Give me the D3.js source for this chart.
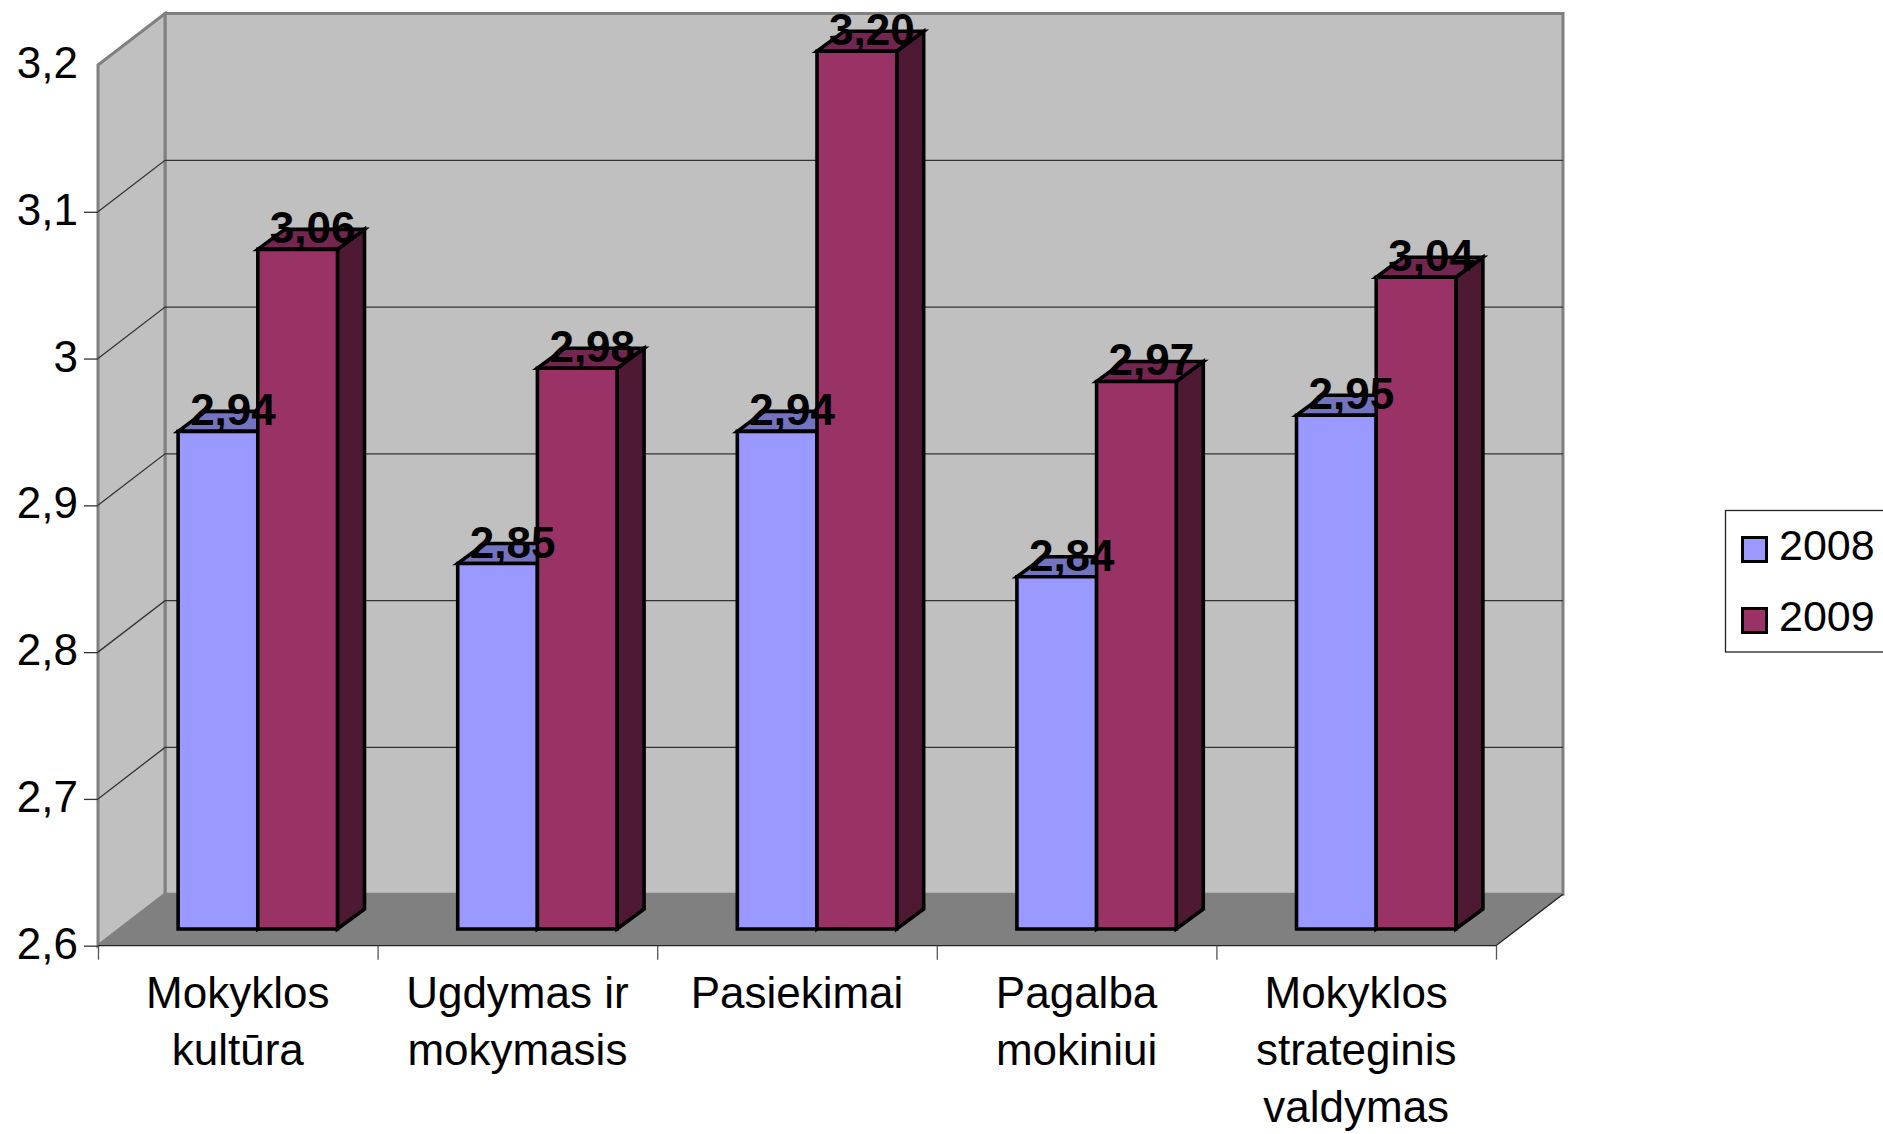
<!DOCTYPE html>
<html>
<head>
<meta charset="utf-8">
<script src="https://cdn.jsdelivr.net/npm/d3@7"></script>
<style>
body { margin: 0; background: #fff; }
svg { display: block; }
text { font-family: "Liberation Sans", Arial, sans-serif; fill: #000; }
</style>
</head>
<body>
<svg id="chart"></svg>
<script>
var categories = [
    ["Mokyklos", "kultūra"],
    ["Ugdymas ir", "mokymasis"],
    ["Pasiekimai"],
    ["Pagalba", "mokiniui"],
    ["Mokyklos", "strateginis", "valdymas"]
];
var years = ["2008", "2009"];
var values2008 = [2.939, 2.849, 2.939, 2.84, 2.95];
var values2009 = [3.063, 2.982, 3.198, 2.973, 3.044];
var yTicks = [2.6, 2.7, 2.8, 2.9, 3, 3.1, 3.2];

var frontColors = ["#9999ff", "#993366"];
var topColors = ["#7373bf", "#732650"];
var sideColors = ["#4d4d80", "#4d1933"];

const width = 1883, height = 1134;
const fontSize = 44;

// wall depth, and how far the bars stand behind the front plane
const depthX = 67, depthY = 51.5;
const barOffX = 20, barOffY = 16.7;
const barDepthX = 27, barDepthY = 20;
const barStroke = 3.6;

const svg = d3.select("#chart").attr("width", width).attr("height", height);

const y = d3.scaleLinear().domain([2.6, 3.2]).range([945.7, 65]);
const x0 = d3.scaleBand().domain(d3.range(categories.length)).range([98, 1496])
    .paddingInner(0.43).paddingOuter(0.215);
const x1 = d3.scaleBand().domain(d3.range(years.length)).range([0, x0.bandwidth()]);
const xEdge = d3.scaleLinear().domain([0, categories.length]).range([98, 1496]);

const left = xEdge.range()[0], right = xEdge.range()[1];
const bottom = y(2.6), top_ = y(3.2);

function poly(pts, fill, stroke, sw) {
    return svg.append("polygon")
        .attr("points", pts.map(p => p.join(",")).join(" "))
        .attr("fill", fill)
        .attr("stroke", stroke || "none")
        .attr("stroke-width", sw || 0)
        .attr("stroke-linejoin", "miter");
}

// walls
poly([[left + depthX, top_ - depthY], [right + depthX, top_ - depthY], [right + depthX, bottom - depthY], [left + depthX, bottom - depthY]], "#c0c0c0", "#808080", 3);
poly([[left, top_], [left + depthX, top_ - depthY], [left + depthX, bottom - depthY], [left, bottom]], "#c0c0c0", "#808080", 3);

// gridlines on side wall and back wall
yTicks.filter(d => d > 2.6 && d < 3.2).forEach(function (d) {
    svg.append("polyline")
        .attr("points", [[left, y(d)], [left + depthX, y(d) - depthY], [right + depthX, y(d) - depthY]].map(p => p.join(",")).join(" "))
        .attr("fill", "none")
        .attr("stroke", "#333")
        .attr("stroke-width", 1.3);
});

// floor
poly([[left, bottom], [left + depthX, bottom - depthY], [right + depthX, bottom - depthY], [right, bottom]], "#808080");
svg.append("polyline")
    .attr("points", [[left, bottom], [right, bottom], [right + depthX, bottom - depthY]].map(p => p.join(",")).join(" "))
    .attr("fill", "none")
    .attr("stroke", "#222")
    .attr("stroke-width", 1.3);

// bars
var series = [values2008, values2009];
categories.forEach(function (c, i) {
    series.forEach(function (vals, s) {
        var xa = x0(i) + x1(s) + barOffX;
        var xb = xa + x1.bandwidth();
        var yt = y(vals[i]) - barOffY;
        var yb = bottom - barOffY;
        var dx = barDepthX, dy = barDepthY;
        poly([[xb, yt], [xb + dx, yt - dy], [xb + dx, yb - dy], [xb, yb]], sideColors[s], "#000", barStroke);
        poly([[xa, yt], [xa + dx, yt - dy], [xb + dx, yt - dy], [xb, yt]], topColors[s], "#000", barStroke);
        poly([[xa, yt], [xb, yt], [xb, yb], [xa, yb]], frontColors[s], "#000", barStroke);
    });
});

// value labels go over all bars
categories.forEach(function (c, i) {
    series.forEach(function (vals, s) {
        svg.append("text")
            .attr("x", x0(i) + x1(s) + barOffX + 1.5 + (x1.bandwidth() + barDepthX) / 2)
            .attr("y", y(vals[i]) - barOffY - 6)
            .attr("text-anchor", "middle")
            .attr("font-size", fontSize)
            .attr("font-weight", "bold")
            .text(vals[i].toFixed(2).replace(".", ","));
    });
});

// y axis
const yAxis = svg.append("g")
    .attr("transform", "translate(" + left + ",0)")
    .call(d3.axisLeft(y).tickValues(yTicks).tickSize(14).tickPadding(6)
        .tickFormat(d => String(d).replace(".", ",")));
yAxis.select(".domain").remove();
yAxis.selectAll(".tick line").attr("stroke", "#333").attr("stroke-width", 1.3)
    .filter(d => d === 3.2).remove();
yAxis.selectAll(".tick text")
    .attr("font-size", fontSize)
    .attr("font-family", null)
    .attr("dy", 12.5);

// x axis ticks
const xAxis = svg.append("g")
    .attr("transform", "translate(0," + bottom + ")")
    .call(d3.axisBottom(xEdge).tickValues(d3.range(categories.length + 1)).tickSize(14).tickFormat(""));
xAxis.select(".domain").remove();
xAxis.selectAll(".tick line").attr("stroke", "#555").attr("stroke-width", 1.3);

// category labels
categories.forEach(function (lines, i) {
    var t = svg.append("text")
        .attr("text-anchor", "middle")
        .attr("font-size", fontSize);
    lines.forEach(function (line, k) {
        t.append("tspan")
            .attr("x", xEdge(i + 0.5))
            .attr("y", 1008 + k * 57)
            .text(line);
    });
});

// legend, it runs off the right edge like the original
svg.append("rect")
    .attr("x", 1725.5).attr("y", 510.5)
    .attr("width", 200).attr("height", 141.5)
    .attr("fill", "#fff").attr("stroke", "#222").attr("stroke-width", 1.3);
years.forEach(function (yr, s) {
    var rowY = 537.5 + s * 71;
    svg.append("rect")
        .attr("x", 1742.5).attr("y", rowY)
        .attr("width", 24).attr("height", 24)
        .attr("fill", frontColors[s]).attr("stroke", "#000").attr("stroke-width", 3);
    svg.append("text")
        .attr("x", 1779)
        .attr("y", rowY + 22)
        .attr("font-size", 43)
        .text(yr);
});
</script>
</body>
</html>
